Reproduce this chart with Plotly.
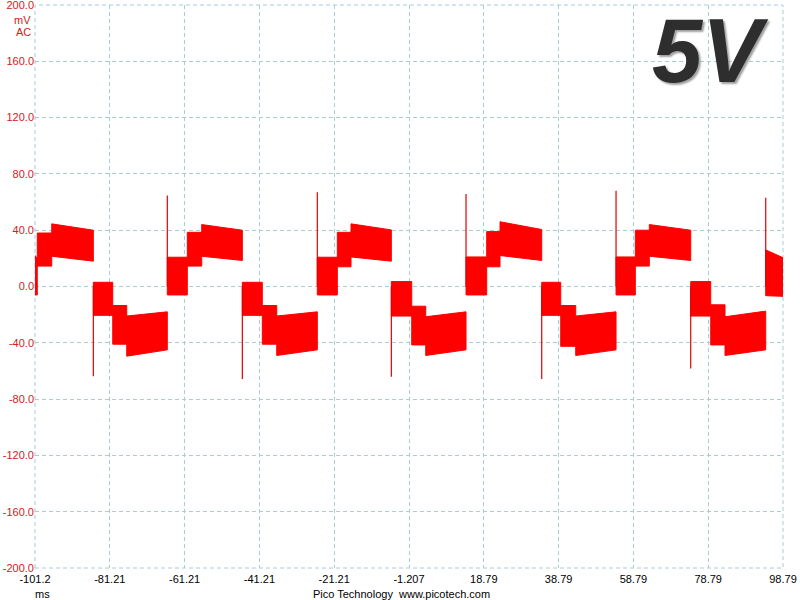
import plotly.graph_objects as go

# ---- data (time in ms, voltage in mV) ----
seg_t0 = [-101.2, -100.6, -96.73, -85.61, -80.42, -76.68, -65.83, -60.48, -56.63,
          -45.77, -40.43, -36.57, -25.72, -20.37, -16.71, -5.93, -0.48, 3.27,
          14.04, 19.57, 23.13, 34.28, 39.36, 43.37, 54.15, 59.31, 63.05,
          74.12, 79.47, 83.29, 94.17]
seg_t1 = seg_t0[1:] + [98.79]

top_start = [22.0, 38.0, 44.5, 3.0, -13.5, -21.0, 20.8, 38.5, 44.0,
             3.0, -13.5, -21.0, 20.8, 38.5, 44.5, 3.5, -14.0, -21.5,
             21.0, 39.0, 46.0, 3.0, -13.5, -21.0, 21.0, 40.0, 44.0,
             3.5, -13.0, -21.5, 26.0]
top_end = [20.0, 38.0, 40.0, 3.0, -13.5, -18.0, 20.8, 38.5, 40.0,
           3.0, -13.5, -18.0, 20.8, 38.5, 40.2, 3.5, -14.0, -18.0,
           21.0, 39.0, 40.5, 3.0, -13.5, -18.0, 21.0, 40.0, 40.0,
           3.5, -13.0, -17.5, 20.5]
bot_start = [-6.0, 14.5, 21.5, -20.5, -41.0, -49.5, -6.0, 14.5, 21.5,
             -20.5, -41.0, -49.0, -6.0, 14.0, 21.0, -21.0, -41.5, -49.0,
             -6.0, 14.0, 22.0, -20.5, -42.5, -49.0, -6.0, 14.5, 21.5,
             -21.0, -41.5, -49.0, -6.5]
bot_end = [-6.0, 14.5, 18.0, -20.5, -41.0, -45.0, -6.0, 14.5, 18.5,
           -20.5, -41.0, -45.0, -6.0, 14.0, 18.0, -21.0, -41.5, -45.0,
           -6.0, 14.0, 18.5, -20.5, -42.5, -45.0, -6.0, 14.5, 18.5,
           -21.0, -41.5, -45.0, -7.0]

spike_t = [-85.61, -65.83, -45.77, -25.72, -5.93, 14.04, 34.28, 54.15, 74.12, 94.17]
spike_v = [-63.7, 64.6, -65.8, 67.0, -64.2, 65.8, -65.8, 68.0, -58.2, 63.0]

x_ticks = [-101.2, -81.207, -61.207, -41.207, -21.207, -1.207,
           18.793, 38.793, 58.793, 78.793, 98.79]
x_labels = ["-101.2", "-81.21", "-61.21", "-41.21", "-21.21", "-1.207",
            "18.79", "38.79", "58.79", "78.79", "98.79"]
y_ticks = [199.9, 160, 120, 80, 40, 0, -40, -80, -120, -160, -199.9]
y_labels = ["200.0", "160.0", "120.0", "80.0", "40.0", "0.0", "-40.0",
            "-80.0", "-120.0", "-160.0", "-200.0"]

# ---- build traces ----
bx, by = [], []
for t0, t1, a0, a1, b0, b1 in zip(seg_t0, seg_t1, top_start, top_end, bot_start, bot_end):
    bx += [t0, t1, t1, t0, t0, None]
    by += [a0, a1, b1, b0, a0, None]

sx, sy = [], []
for t, v in zip(spike_t, spike_v):
    sx += [t, t, None]
    sy += [0, v, None]

fig = go.Figure()
fig.add_trace(go.Scatter(x=bx, y=by, mode="lines", fill="toself",
                         fillcolor="#ff0000", line=dict(color="#ff0000", width=1),
                         hoverinfo="skip", showlegend=False))
fig.add_trace(go.Scatter(x=sx, y=sy, mode="lines",
                         line=dict(color="#e00000", width=1.2),
                         hoverinfo="skip", showlegend=False))

grid = "#a9cdd6"
gdash = "4px,3px"
fig.update_layout(
    width=800, height=600,
    margin=dict(l=35, r=17, t=5, b=32, autoexpand=False),
    paper_bgcolor="white", plot_bgcolor="white",
    font=dict(family="Liberation Sans, Arial, sans-serif", size=11, color="black"),
    showlegend=False,
    xaxis=dict(range=[-101.207, 98.793], tickvals=x_ticks, ticktext=x_labels,
               showgrid=True, gridcolor=grid, griddash=gdash, gridwidth=1,
               zeroline=False, showline=False, ticks="", automargin=False,
               ticklabeloverflow="allow", ticklabelstandoff=3,
               tickfont=dict(color="black", size=11)),
    yaxis=dict(range=[-200, 200], tickvals=y_ticks, ticktext=y_labels,
               showgrid=True, gridcolor=grid, griddash=gdash, gridwidth=1,
               zeroline=False, showline=False, ticks="", automargin=False,
               ticklabeloverflow="allow",
               tickfont=dict(color="#d42020", size=11)),
    shapes=[
        dict(type="rect", xref="paper", yref="paper", x0=0, x1=1, y0=0, y1=1,
             line=dict(color=grid, width=1, dash=gdash), layer="below"),
    ],
    annotations=[
        dict(text="mV", xref="paper", yref="paper", x=0, y=(567.5 - 20) / 562,
             xanchor="right", yanchor="middle", xshift=-2, showarrow=False,
             font=dict(color="#d42020", size=11)),
        dict(text="AC", xref="paper", yref="paper", x=0, y=(567.5 - 32) / 562,
             xanchor="right", yanchor="middle", xshift=-2, showarrow=False,
             font=dict(color="#d42020", size=11)),
        dict(text="ms", xref="paper", yref="paper", x=(42 - 35) / 748, y=-25.5 / 562,
             xanchor="center", yanchor="middle", showarrow=False,
             font=dict(color="black", size=11)),
        dict(text="Pico Technology  www.picotech.com", xref="paper", yref="paper",
             x=(401 - 35) / 748, y=-25.5 / 562, xanchor="center", yanchor="middle",
             showarrow=False, font=dict(color="black", size=11)),
        dict(text="5V", xref="paper", yref="paper", x=(710 - 35) / 748,
             y=(567.5 - 51) / 562, xanchor="center", yanchor="middle", showarrow=False,
             font=dict(family="Liberation Sans, Arial, sans-serif", size=90,
                       color="#2e2e2e", weight="bold", style="italic",
                       shadow="2px 2px 2px #a0a0a0")),
    ],
)

fig.write_html("out.html", config={"displayModeBar": False},
               post_script="document.body.style.margin='0px';document.body.style.overflow='hidden';")
